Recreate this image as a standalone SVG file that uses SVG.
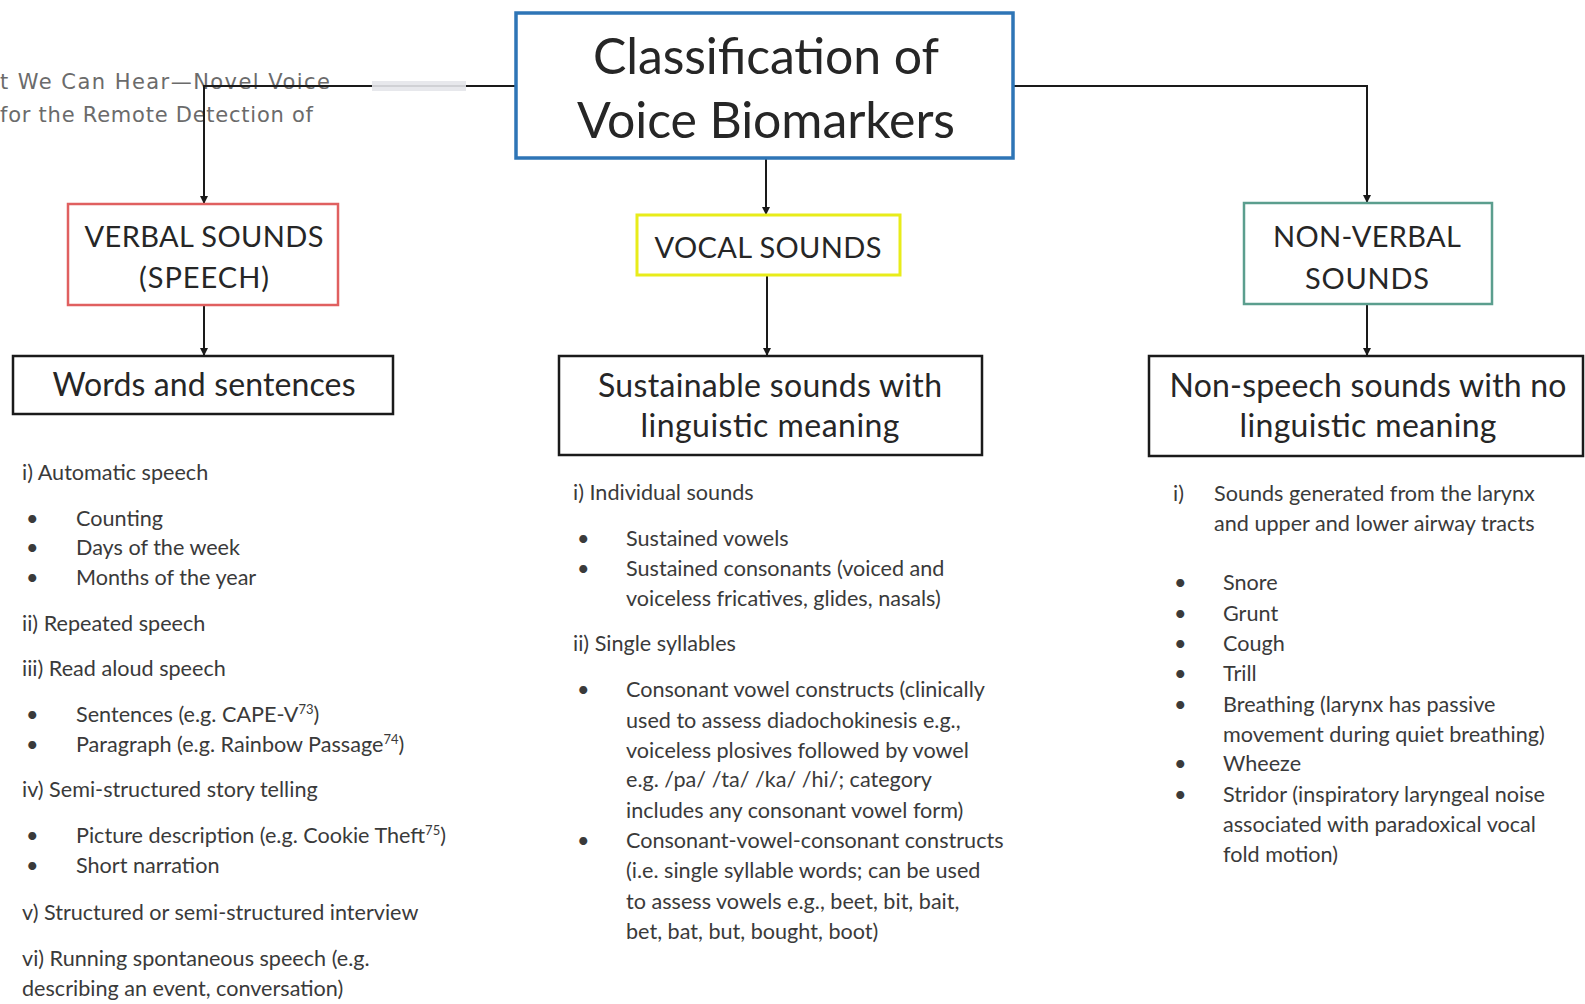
<svg xmlns="http://www.w3.org/2000/svg" width="1585" height="1004" viewBox="0 0 1585 1004">
  <style>
    .box { fill: #ffffff; }
    .lbl { font-family: Lato, "Liberation Sans", sans-serif; fill: #262626; text-anchor: middle; }
    .item { font-family: Lato, "Liberation Sans", sans-serif; font-size: 21.6px; fill: #3a3a3a; }
    .ghost { font-family: "DejaVu Sans", "Liberation Sans", sans-serif; font-size: 21px; fill: #6b6b6b; }
    .wire { fill: none; stroke: #1a1a1a; stroke-width: 2; }
    .sup { font-size: 13px; }
  </style>
  <defs>
    <marker id="arrow" viewBox="0 0 10 10" refX="10" refY="5" markerWidth="8" markerHeight="8" markerUnits="userSpaceOnUse" orient="auto">
      <path d="M0,0 L10,5 L0,10 z" fill="#1a1a1a"/>
    </marker>
  </defs>

  <rect width="1585" height="1004" fill="#ffffff"/>

  <!-- faint text showing through at the top left -->
  <g id="ghost-text">
    <text class="ghost" x="0" y="89" textLength="330">t We Can Hear—Novel Voice</text>
    <text class="ghost" x="0" y="122" textLength="313">for the Remote Detection of</text>
  </g>

  <!-- connectors -->
  <g id="connectors">
    <path class="wire" d="M516,86 H204 V204" marker-end="url(#arrow)"/>
    <path class="wire" d="M1013,86 H1367 V203" marker-end="url(#arrow)"/>
    <path class="wire" d="M766,158 V215" marker-end="url(#arrow)"/>
    <path class="wire" d="M204,305 V356" marker-end="url(#arrow)"/>
    <path class="wire" d="M767,275 V356" marker-end="url(#arrow)"/>
    <path class="wire" d="M1367,304 V356" marker-end="url(#arrow)"/>
    <rect x="372" y="81" width="94" height="10" fill="#e4e6ea" opacity="0.9"/>
  </g>

  <!-- root node -->
  <g id="root">
    <rect class="box" x="516" y="13" width="497" height="145" stroke="#2e75b6" stroke-width="3.5"/>
    <text class="lbl" x="766" y="74" font-size="50" textLength="346">Classification of</text>
    <text class="lbl" x="766" y="138" font-size="50" textLength="378">Voice Biomarkers</text>
  </g>

  <!-- category nodes -->
  <g id="verbal">
    <rect class="box" x="68" y="204" width="270" height="101" stroke="#e06060" stroke-width="2.5"/>
    <text class="lbl" x="204" y="247" font-size="29" textLength="239">VERBAL SOUNDS</text>
    <text class="lbl" x="204" y="288" font-size="29" textLength="130">(SPEECH)</text>
  </g>
  <g id="vocal">
    <rect class="box" x="637" y="215" width="263" height="60" stroke="#e8ec1a" stroke-width="3"/>
    <text class="lbl" x="768" y="258" font-size="29" textLength="227">VOCAL SOUNDS</text>
  </g>
  <g id="nonverbal">
    <rect class="box" x="1244" y="203" width="248" height="101" stroke="#5b9e8e" stroke-width="2.5"/>
    <text class="lbl" x="1367" y="247" font-size="29" textLength="188">NON-VERBAL</text>
    <text class="lbl" x="1367" y="289" font-size="29" textLength="124">SOUNDS</text>
  </g>

  <!-- sub-category nodes -->
  <g id="words">
    <rect class="box" x="13" y="356" width="380" height="58" stroke="#1a1a1a" stroke-width="2.5"/>
    <text class="lbl" x="204" y="396" font-size="32" textLength="303">Words and sentences</text>
  </g>
  <g id="sustainable">
    <rect class="box" x="559" y="356" width="423" height="99" stroke="#1a1a1a" stroke-width="2.5"/>
    <text class="lbl" x="770" y="397" font-size="32" textLength="344">Sustainable sounds with</text>
    <text class="lbl" x="770" y="437" font-size="32" textLength="259">linguistic meaning</text>
  </g>
  <g id="nonspeech">
    <rect class="box" x="1149" y="356" width="434" height="100" stroke="#1a1a1a" stroke-width="2.5"/>
    <text class="lbl" x="1368" y="397" font-size="32" textLength="397">Non-speech sounds with no</text>
    <text class="lbl" x="1368" y="437" font-size="32" textLength="257">linguistic meaning</text>
  </g>

  <!-- verbal sound examples -->
  <g id="verbal-list" class="item">
    <text x="22" y="480">i) Automatic speech</text>
    <text x="26" y="526">•</text><text x="76" y="526">Counting</text>
    <text x="26" y="555">•</text><text x="76" y="555">Days of the week</text>
    <text x="26" y="585">•</text><text x="76" y="585">Months of the year</text>
    <text x="22" y="631">ii) Repeated speech</text>
    <text x="22" y="676">iii) Read aloud speech</text>
    <text x="26" y="722">•</text><text x="76" y="722">Sentences (e.g. CAPE-V<tspan class="sup" dy="-8">73</tspan><tspan dy="8">)</tspan></text>
    <text x="26" y="752">•</text><text x="76" y="752">Paragraph (e.g. Rainbow Passage<tspan class="sup" dy="-8">74</tspan><tspan dy="8">)</tspan></text>
    <text x="22" y="797">iv) Semi-structured story telling</text>
    <text x="26" y="843">•</text><text x="76" y="843">Picture description (e.g. Cookie Theft<tspan class="sup" dy="-8">75</tspan><tspan dy="8">)</tspan></text>
    <text x="26" y="873">•</text><text x="76" y="873">Short narration</text>
    <text x="22" y="920">v) Structured or semi-structured interview</text>
    <text x="22" y="966">vi) Running spontaneous speech (e.g.</text>
    <text x="22" y="996">describing an event, conversation)</text>
  </g>

  <!-- vocal sound examples -->
  <g id="vocal-list" class="item">
    <text x="573" y="500">i) Individual sounds</text>
    <text x="577" y="546">•</text><text x="626" y="546">Sustained vowels</text>
    <text x="577" y="576">•</text><text x="626" y="576">Sustained consonants (voiced and</text>
    <text x="626" y="606">voiceless fricatives, glides, nasals)</text>
    <text x="573" y="651">ii) Single syllables</text>
    <text x="577" y="697">•</text><text x="626" y="697">Consonant vowel constructs (clinically</text>
    <text x="626" y="728">used to assess diadochokinesis e.g.,</text>
    <text x="626" y="758">voiceless plosives followed by vowel</text>
    <text x="626" y="787">e.g. /pa/ /ta/ /ka/ /hi/; category</text>
    <text x="626" y="818">includes any consonant vowel form)</text>
    <text x="577" y="848">•</text><text x="626" y="848">Consonant-vowel-consonant constructs</text>
    <text x="626" y="878">(i.e. single syllable words; can be used</text>
    <text x="626" y="909">to assess vowels e.g., beet, bit, bait,</text>
    <text x="626" y="939">bet, bat, but, bought, boot)</text>
  </g>

  <!-- non-verbal sound examples -->
  <g id="nonverbal-list" class="item">
    <text x="1173" y="501">i)</text><text x="1214" y="501">Sounds generated from the larynx</text>
    <text x="1214" y="531">and upper and lower airway tracts</text>
    <text x="1174" y="590">•</text><text x="1223" y="590">Snore</text>
    <text x="1174" y="621">•</text><text x="1223" y="621">Grunt</text>
    <text x="1174" y="651">•</text><text x="1223" y="651">Cough</text>
    <text x="1174" y="681">•</text><text x="1223" y="681">Trill</text>
    <text x="1174" y="712">•</text><text x="1223" y="712">Breathing (larynx has passive</text>
    <text x="1223" y="742">movement during quiet breathing)</text>
    <text x="1174" y="771">•</text><text x="1223" y="771">Wheeze</text>
    <text x="1174" y="802">•</text><text x="1223" y="802">Stridor (inspiratory laryngeal noise</text>
    <text x="1223" y="832">associated with paradoxical vocal</text>
    <text x="1223" y="862">fold motion)</text>
  </g>
</svg>
